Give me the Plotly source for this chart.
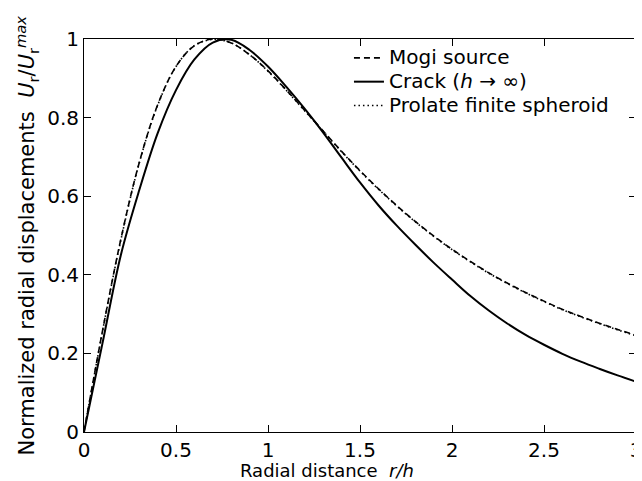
import plotly.graph_objects as go

# radial distance r/h
r_h = [0.0, 0.1, 0.2, 0.3, 0.4, 0.5, 0.6, 0.7, 0.8, 0.9, 1.0,
       1.1, 1.2, 1.3, 1.4, 1.5, 1.6, 1.7, 1.8, 1.9, 2.0,
       2.1, 2.2, 2.3, 2.4, 2.5, 2.6, 2.7, 2.8, 2.9, 3.0]

mogi = [0.0, 0.256, 0.490, 0.685, 0.832, 0.930, 0.983, 1.000, 0.990, 0.960, 0.919,
        0.870, 0.818, 0.766, 0.714, 0.665, 0.619, 0.576, 0.536, 0.499, 0.465,
        0.434, 0.405, 0.379, 0.355, 0.333, 0.312, 0.294, 0.277, 0.261, 0.246]

crack = [0.0, 0.225, 0.450, 0.615, 0.760, 0.870, 0.948, 0.991, 0.998, 0.972, 0.930,
         0.878, 0.822, 0.762, 0.698, 0.635, 0.577, 0.525, 0.477, 0.431, 0.388,
         0.346, 0.309, 0.276, 0.247, 0.222, 0.199, 0.179, 0.161, 0.144, 0.128]

prolate = [0.0, 0.255, 0.488, 0.684, 0.831, 0.930, 0.983, 0.999, 0.990, 0.960, 0.918,
           0.869, 0.817, 0.765, 0.713, 0.664, 0.618, 0.575, 0.535, 0.498, 0.464,
           0.433, 0.404, 0.378, 0.354, 0.332, 0.311, 0.293, 0.276, 0.260, 0.245]

names = ["Mogi source", "Crack (<i>h</i> \u2192 \u221e)", "Prolate finite spheroid"]

x_ticks = [0, 0.5, 1, 1.5, 2, 2.5, 3]
y_ticks = [0, 0.2, 0.4, 0.6, 0.8, 1]

FONT = "DejaVu Sans, Arial, sans-serif"


def legend_label(s):
    return '<span style="font-size:20px">' + s + '</span>'


fig = go.Figure()
fig.add_trace(go.Scatter(x=r_h, y=mogi, mode="lines", line_shape="spline",
                         name=legend_label(names[0]),
                         line=dict(color="black", width=1.6, dash="6px,4px")))
fig.add_trace(go.Scatter(x=r_h, y=crack, mode="lines", line_shape="spline",
                         name=legend_label(names[1]),
                         line=dict(color="black", width=2)))
fig.add_trace(go.Scatter(x=r_h, y=prolate, mode="lines", line_shape="spline",
                         name=legend_label(names[2]),
                         line=dict(color="black", width=1.6, dash="1.5px,3px")))

axis_common = dict(showgrid=False, zeroline=False, showline=True, linecolor="black",
                   linewidth=1, mirror="ticks", ticks="inside", ticklen=7,
                   tickwidth=1, tickcolor="black",
                   tickfont=dict(family=FONT, size=20, color="black"))

fig.update_xaxes(range=[0, 3], tickvals=x_ticks, **axis_common)
fig.update_yaxes(range=[0, 1], tickvals=y_ticks, **axis_common)

fig.update_layout(
    width=642, height=481,
    margin=dict(l=76, r=8, t=31, b=57),
    paper_bgcolor="white", plot_bgcolor="white",
    font=dict(family=FONT, color="black"),
    showlegend=True,
    legend=dict(x=0.48, y=0.995, xanchor="left", yanchor="top",
                bgcolor="rgba(0,0,0,0)", borderwidth=0,
                font=dict(family=FONT, size=16, color="black")),
    annotations=[
        dict(text="Radial distance&nbsp;&nbsp;<i>r/h</i>", xref="paper", yref="paper",
             x=0.441, y=-0.097, xanchor="center", yanchor="middle", showarrow=False,
             font=dict(family=FONT, size=18, color="black")),
        dict(text="Normalized radial displacements&nbsp;&nbsp;<i>U</i><sub>r</sub>/<i>U</i><sub>r</sub><sup><i>max</i></sup>",
             xref="paper", yref="paper", x=0, xshift=-58, y=0.50,
             xanchor="center", yanchor="middle", textangle=-90, showarrow=False,
             font=dict(family=FONT, size=21, color="black")),
    ],
)

fig.write_html("out.html")
